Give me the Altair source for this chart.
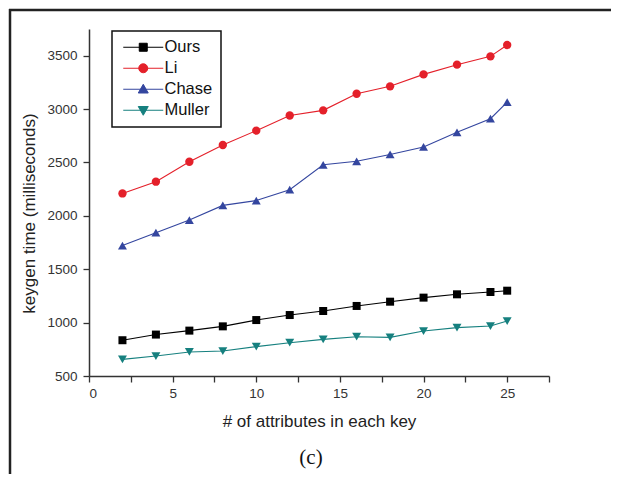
import altair as alt
import pandas as pd

# ---- data ----
attrs = [2, 4, 6, 8, 10, 12, 14, 16, 18, 20, 22, 24, 25]
series_names = ["Ours", "Li", "Chase", "Muller"]
ours = [835, 888, 925, 965, 1024, 1071, 1109, 1156, 1196, 1234, 1265, 1287, 1299]
li = [2210, 2320, 2507, 2664, 2798, 2940, 2988, 3144, 3213, 3325, 3416, 3494, 3600]
chase = [1722, 1842, 1961, 2098, 2143, 2245, 2478, 2511, 2575, 2645, 2782, 2910, 3065]
muller = [656, 687, 725, 734, 775, 812, 843, 868, 862, 921, 953, 968, 1015]

colors = ["#000000", "#e4202a", "#34469f", "#16807f"]
shapes = ["square", "circle", "triangle-up", "triangle-down"]
sizes = [64, 70, 80, 80]
# legend symbols: line segment plus marker (unit box scaled by sqrt(size)/2)
legend_paths = [
    "M-1,0H7M2.2,-0.8H3.8V0.8H2.2Z",
    "M-1,0H7M3.9,0A0.9,0.9,0,1,1,2.1,0A0.9,0.9,0,1,1,3.9,0Z",
    "M-1,0H7M3,-1L4,0.75L2,0.75Z",
    "M-1,0H7M2,-0.75L4,-0.75L3,1Z",
]
caption = "(c)"

x_ticks = [i * 2.5 for i in range(12)]
y_ticks = [500 + i * 250 for i in range(14)]

rows = []
for name, vals in zip(series_names, [ours, li, chase, muller]):
    for a, v in zip(attrs, vals):
        rows.append({"attrs": a, "time": v, "series": name})
df = pd.DataFrame(rows)

FONT = "Liberation Sans"

x_enc = alt.X(
    "attrs:Q",
    scale=alt.Scale(domain=[0, 27.5], nice=False, zero=False),
    axis=alt.Axis(
        values=x_ticks,
        labelExpr="datum.value % 5 == 0 ? datum.label : ''",
        title="# of attributes in each key",
        grid=False,
        tickSize=6,
        labelPadding=4,
        titlePadding=14,
        labelFontSize=13.5,
        titleFontSize=17,
    ),
)
y_enc = alt.Y(
    "time:Q",
    scale=alt.Scale(domain=[500, 3750], nice=False, zero=False),
    axis=alt.Axis(
        values=y_ticks,
        labelExpr="datum.value % 500 == 0 ? datum.label : ''",
        format="d",
        title="keygen time (milliseconds)",
        grid=False,
        tickSize=6,
        labelPadding=6,
        titlePadding=8,
        labelFontSize=13.5,
        titleFontSize=17,
        titleY=184,
    ),
)

color_scale = alt.Scale(domain=series_names, range=colors)

base = alt.Chart(df)

line_layers = []
point_layers = []
for i, (name, col, shp, sz) in enumerate(zip(series_names, colors, shapes, sizes)):
    sub = base.transform_filter(alt.datum.series == name)
    if i == 0:
        enc = dict(x=x_enc, y=y_enc)
    else:
        enc = dict(x="attrs:Q", y="time:Q")
    line_layers.append(sub.mark_line(strokeWidth=1.1, color=col).encode(**enc))
    point_layers.append(
        sub.mark_point(filled=True, opacity=1, size=sz, shape=shp, color=col).encode(
            x="attrs:Q", y="time:Q"
        )
    )

legend_layer = base.transform_filter("false").mark_point(
    filled=False, size=100, strokeWidth=1, opacity=1
).encode(
    x="attrs:Q",
    y="time:Q",
    shape=alt.Shape(
        "series:N",
        scale=alt.Scale(domain=series_names, range=legend_paths),
        legend=alt.Legend(
            title=None,
            orient="none",
            legendX=23,
            legendY=2,
            padding=8,
            strokeColor="#111111",
            labelFont=FONT,
            labelFontSize=16.5,
            labelColor="#111111",
            labelOffset=28,
            rowPadding=4,
            symbolStrokeWidth=1,
            symbolSize=100,
            symbolOpacity=1,
        ),
    ),
    fill=alt.Fill("series:N", scale=color_scale, legend=alt.Legend(title=None)),
    stroke=alt.Stroke("series:N", scale=color_scale, legend=alt.Legend(title=None)),
)

frame_df = pd.DataFrame({"k": [0]})
frame_top = alt.Chart(frame_df).mark_rule(color="#222222", strokeWidth=2.5).encode(
    x=alt.value(-80), x2=alt.value(540), y=alt.value(-19), y2=alt.value(-19)
)
frame_left = alt.Chart(frame_df).mark_rule(color="#222222", strokeWidth=2.5).encode(
    x=alt.value(-79), x2=alt.value(-79), y=alt.value(-20), y2=alt.value(460)
)
caption_layer = alt.Chart(pd.DataFrame({"t": [caption]})).mark_text(
    font="Liberation Serif", fontSize=21, color="#111111", baseline="middle", align="center"
).encode(text="t:N", x=alt.value(222), y=alt.value(429))

chart = (
    alt.layer(*line_layers, *point_layers, legend_layer, frame_top, frame_left, caption_layer)
    .properties(
        width=460,
        height=347,
        padding={"left": 81, "top": 21, "right": 62, "bottom": 98},
        autosize=alt.AutoSizeParams(type="none"),
    )
    .configure_view(stroke=None)
    .configure_axis(
        domainColor="#333333",
        domainWidth=1.5,
        tickColor="#333333",
        tickWidth=1.3,
        labelColor="#333333",
        titleColor="#222222",
        labelFont=FONT,
        titleFont=FONT,
        titleFontWeight="normal",
    )
    .configure_legend(strokeWidth=1.5)
)

chart.save("out.html", embed_options={"renderer": "svg", "actions": False})
